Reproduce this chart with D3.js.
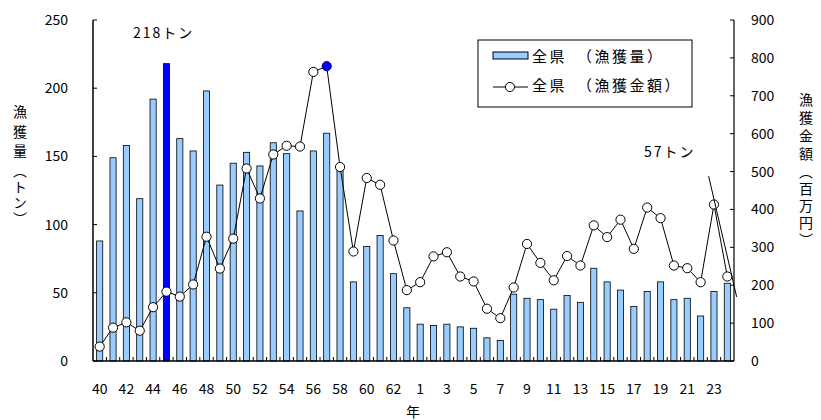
<!DOCTYPE html>
<html><head><meta charset="utf-8">
<script src="https://cdn.jsdelivr.net/npm/d3@7"></script>
<style>
body{margin:0;background:#fff;}
svg text{font-family:"Noto Sans CJK JP","Noto Sans",sans-serif;fill:#000;}
</style></head><body>
<svg id="c" width="821" height="420"></svg>
<script>
const years = ["40","41","42","43","44","45","46","47","48","49","50","51","52","53","54","55","56","57","58","59","60","61","62","63",
"1","2","3","4","5","6","7","8","9","10","11","12","13","14","15","16","17","18","19","20","21","22","23","24"];
const catchTons = [88,149,158,119,192,218,163,154,198,129,145,153,143,160,152,110,154,167,140,58,84,92,64,39,
27,26,27,25,24,17,15,49,46,45,38,48,43,68,58,52,40,51,58,45,46,33,51,57];
const valueMillion = [38,88,102,80,142,183,170,202,328,244,323,508,429,545,568,566,763,778,512,289,483,465,318,187,
208,276,287,223,210,138,113,194,309,259,213,277,252,358,327,373,296,405,377,252,245,208,413,223];
const xTickLabels = ["40","42","44","46","48","50","52","54","56","58","60","62","1","3","5","7","9","11","13","15","17","19","21","23"];
const leftTicks = [0,50,100,150,200,250];
const rightTicks = [0,100,200,300,400,500,600,700,800,900];
const legendLabels = ["全県　（漁獲量）","全県　（漁獲金額）"];
const highlightBarIndex = 5, highlightPointIndex = 17;

const svg = d3.select("#c");
const L=93, R=734, T=20, B=361;
const x = d3.scaleBand().domain(years.map((d,i)=>i)).range([L,R]).padding(0);
const yL = d3.scaleLinear().domain([0,250]).range([B,T]);
const yR = d3.scaleLinear().domain([0,900]).range([B,T]);
const bw = x.bandwidth()*0.46;
const cx = i=>x(i)+x.bandwidth()/2;

// bars
svg.append("g").selectAll("rect").data(catchTons).join("rect")
  .attr("x",(d,i)=>cx(i)-bw/2)
  .attr("y",d=>yL(d)).attr("width",bw).attr("height",d=>B-yL(d))
  .attr("fill",(d,i)=>i===highlightBarIndex?"#0000ff":"#99ccff")
  .attr("stroke","#000").attr("stroke-width",0.8);

// axes
const ax = svg.append("g").attr("stroke","#000").attr("fill","none");
ax.append("line").attr("x1",L).attr("x2",L).attr("y1",T).attr("y2",B).attr("stroke-width",1.5);
ax.append("line").attr("x1",R).attr("x2",R).attr("y1",T).attr("y2",B).attr("stroke-width",1.2);
ax.append("line").attr("x1",L).attr("x2",R).attr("y1",B).attr("y2",B).attr("stroke-width",1.5);
leftTicks.forEach(v=>ax.append("line").attr("x1",L).attr("x2",L+4).attr("y1",yL(v)).attr("y2",yL(v)));
rightTicks.forEach(v=>ax.append("line").attr("x1",R-4).attr("x2",R).attr("y1",yR(v)).attr("y2",yR(v)));
years.forEach((d,i)=>{ if(i>0) ax.append("line").attr("x1",x(i)).attr("x2",x(i)).attr("y1",B).attr("y2",B-4);});

svg.append("g").selectAll("text").data(leftTicks).join("text")
  .attr("x",68).attr("y",d=>yL(d)+5).attr("text-anchor","end").attr("font-size",14).text(d=>d);
svg.append("g").selectAll("text").data(rightTicks).join("text")
  .attr("x",751).attr("y",d=>yR(d)+5).attr("text-anchor","start").attr("font-size",14).text(d=>d);
svg.append("g").selectAll("text").data(xTickLabels).join("text")
  .attr("x",(d,k)=>cx(k*2))
  .attr("y",394).attr("text-anchor","middle").attr("font-size",14).text(d=>d);

svg.append("text").attr("x",413).attr("y",417).attr("text-anchor","middle").attr("font-size",14).text("年");

// vertical axis titles
const lt = svg.append("text").attr("x",20).attr("y",105).attr("font-size",14).style("writing-mode","vertical-rl");
lt.append("tspan").attr("letter-spacing",5.5).text("漁獲量");
lt.append("tspan").attr("letter-spacing",2).text("（トン）");
const rt = svg.append("text").attr("x",806).attr("y",93).attr("font-size",14).style("writing-mode","vertical-rl");
rt.append("tspan").attr("letter-spacing",4).text("漁獲金額");
rt.append("tspan").attr("letter-spacing",3).text("（百万円）");

// line
const line = d3.line().x((d,i)=>cx(i)).y(d=>yR(d));
svg.append("path").datum(valueMillion).attr("d",line).attr("fill","none").attr("stroke","#000").attr("stroke-width",1);
svg.append("g").selectAll("circle").data(valueMillion).join("circle")
  .attr("cx",(d,i)=>cx(i)).attr("cy",d=>yR(d)).attr("r",4.6)
  .attr("fill",(d,i)=>i===highlightPointIndex?"#0000ff":"#fff")
  .attr("stroke",(d,i)=>i===highlightPointIndex?"#000080":"#000").attr("stroke-width",1);

// annotations
svg.append("text").attr("x",133).attr("y",38).attr("font-size",14).attr("letter-spacing",2).text("218トン");
svg.append("text").attr("x",644).attr("y",157).attr("font-size",14).attr("letter-spacing",2).text("57トン");
const xi = v=>x(0)+v*x.bandwidth();
svg.append("line").attr("x1",xi(46.1)).attr("y1",yL(135.5)).attr("x2",xi(48.2)).attr("y2",yL(47))
  .attr("stroke","#000").attr("stroke-width",1);

// legend
const lg = svg.append("g");
lg.append("rect").attr("x",478).attr("y",40).attr("width",214).attr("height",67).attr("fill","#fff").attr("stroke","#000");
lg.append("rect").attr("x",493).attr("y",52).attr("width",35).attr("height",7).attr("fill","#99ccff").attr("stroke","#000");
lg.append("line").attr("x1",493).attr("x2",528).attr("y1",87).attr("y2",87).attr("stroke","#000");
lg.append("circle").attr("cx",510).attr("cy",87).attr("r",4.6).attr("fill","#fff").attr("stroke","#000");
lg.selectAll("text.l").data(legendLabels).join("text").attr("x",532).attr("y",(d,i)=>62+i*29)
  .attr("font-size",15).attr("letter-spacing",2.5).text(d=>d);
</script></body></html>
